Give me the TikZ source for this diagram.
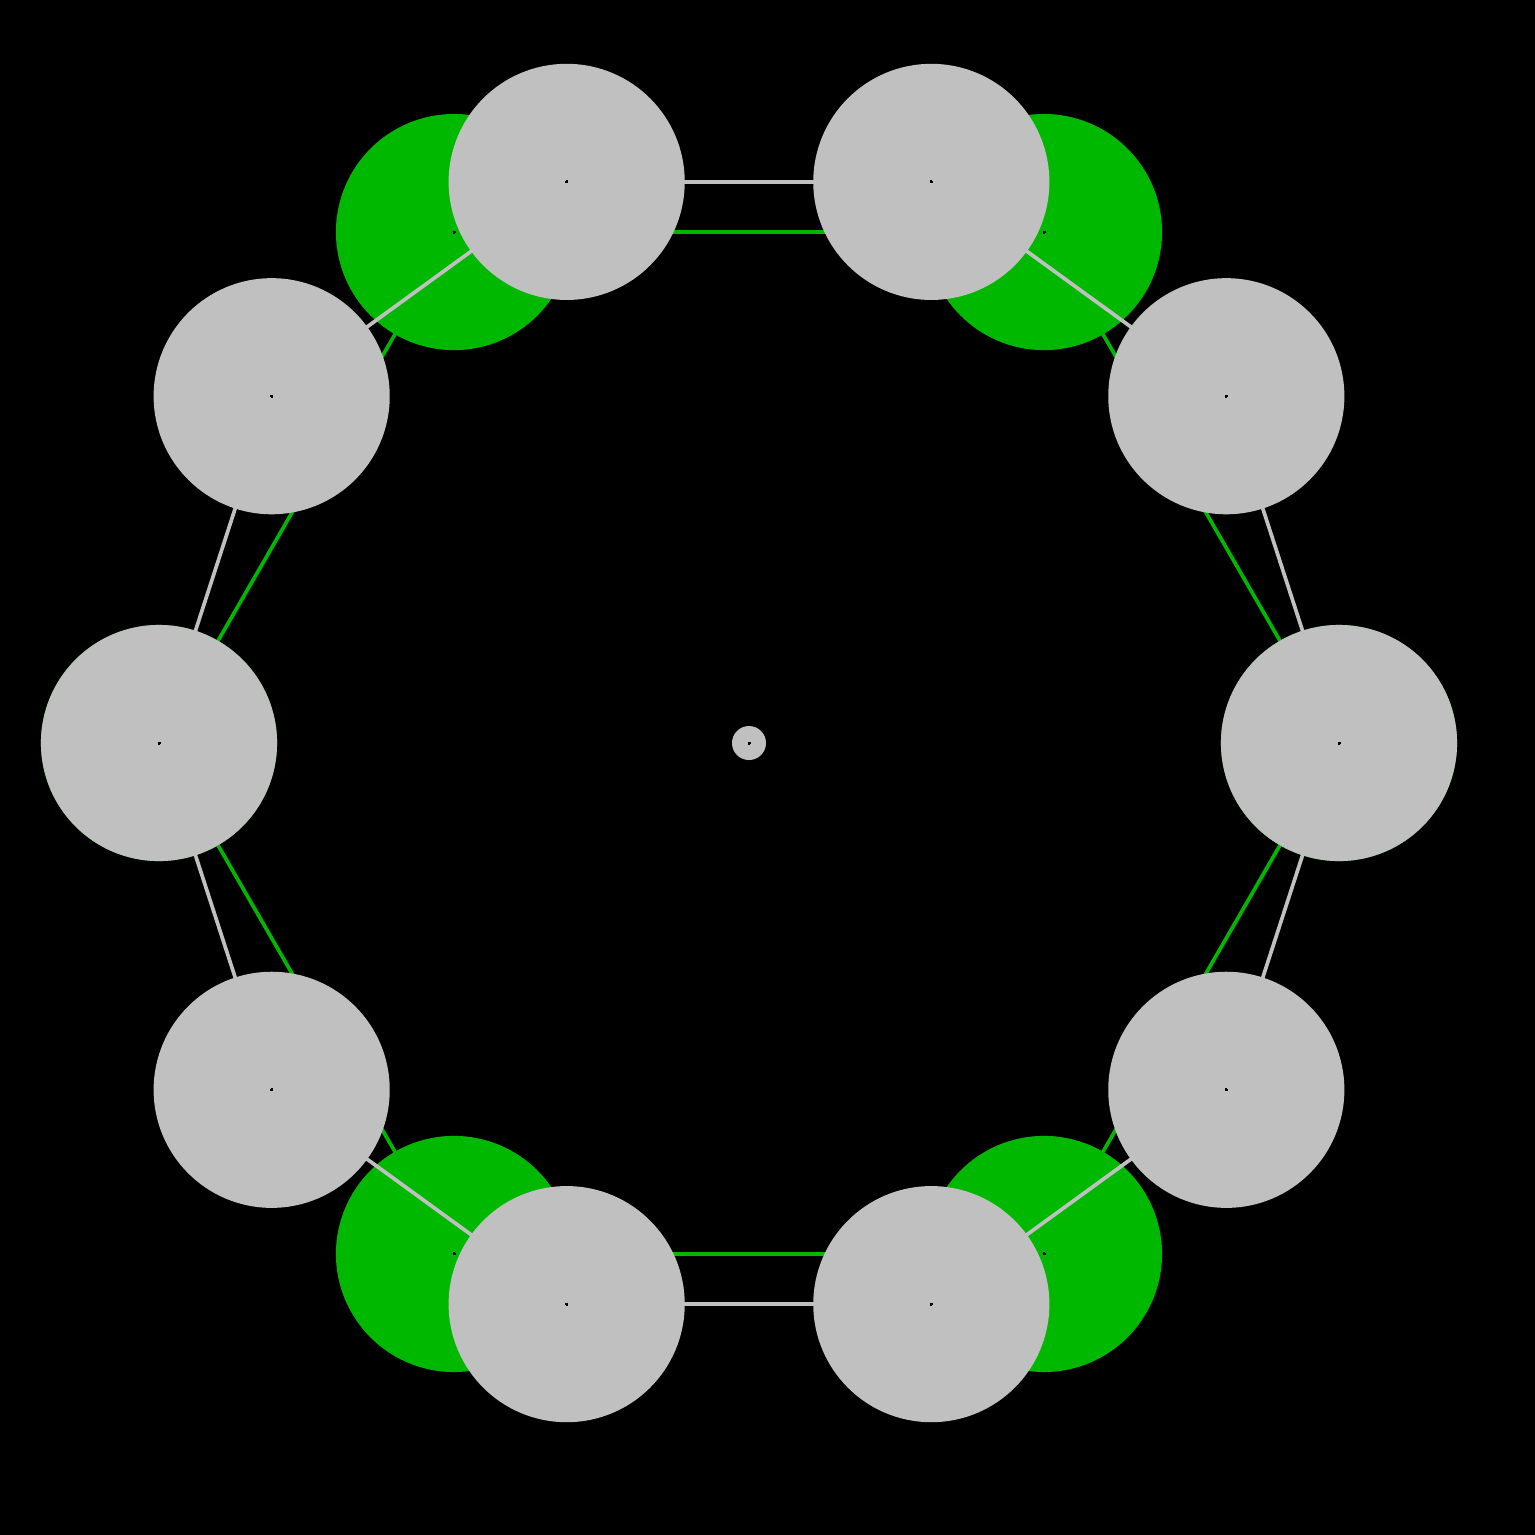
\documentclass[tikz,border=0pt]{standalone}
\usetikzlibrary{calc}
\definecolor{lgrey}{RGB}{192,192,192}
\definecolor{dgreen}{RGB}{0,184,0}
\tikzset{
  greyball/.style={circle, fill=lgrey, minimum size=2.36cm, inner sep=0pt},
  greenball/.style={circle, fill=dgreen, minimum size=2.36cm, inner sep=0pt},
  greyedge/.style={draw=lgrey, line width=1.05pt},
  greenedge/.style={draw=dgreen, line width=1.05pt},
  cdot/.style={draw=black, line width=0.5pt}
}
\begin{document}
\begin{tikzpicture}[x=0.01cm,y=-0.01cm]
\fill[black] (0,0) rectangle (1535,1535);
\useasboundingbox (0,0) rectangle (1535,1535);
\coordinate (O) at (749,743);
% decagon centres
\foreach \i in {0,...,9}{
  \coordinate (g\i) at ($(O)+({590*cos(36*\i)},{-590*sin(36*\i)})$);
}
\foreach \i in {0,...,5}{
  \coordinate (h\i) at ($(O)+({590*cos(60*\i)},{-590*sin(60*\i)})$);
}
% green edges
\foreach \i/\j in {0/1,1/2,2/3,3/4,4/5,5/0}{
  \draw[greenedge] (h\i) -- (h\j);
}
% green balls
\foreach \i in {0,...,5}{
  \node[greenball] (H\i) at (h\i) {};
}
% grey edges
\foreach \i/\j in {0/1,1/2,2/3,3/4,4/5,5/6,6/7,7/8,8/9,9/0}{
  \draw[greyedge] (g\i) -- (g\j);
}
% grey balls
\foreach \i in {0,...,9}{
  \node[greyball] (G\i) at (g\i) {};
}
\node[circle, fill=lgrey, minimum size=0.34cm, inner sep=0pt] (C) at (O) {};
% centre marks
\foreach \p in {O,g0,g1,g2,g3,g4,g5,g6,g7,g8,g9,h1,h2,h4,h5}{
  \draw[cdot] ($(\p)+(-1.5,0)$) -- ($(\p)+(1.5,0)$);
  \draw[cdot] ($(\p)+(0,-1.5)$) -- ($(\p)+(0,1.5)$);
}
\end{tikzpicture}
\end{document}
